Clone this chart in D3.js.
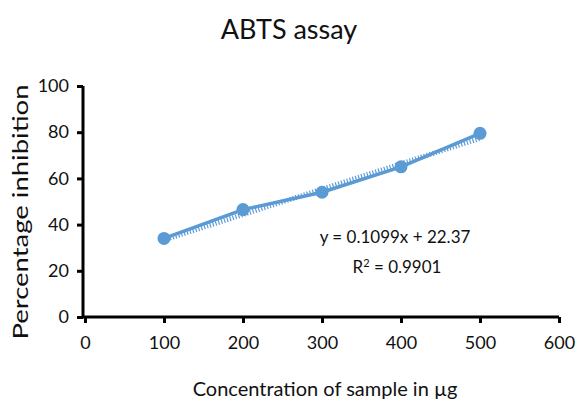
<!DOCTYPE html>
<html><head><meta charset="utf-8">
<script src="https://cdn.jsdelivr.net/npm/d3@7"></script>
<style>body{margin:0;background:#fff}svg{display:block}</style>
</head><body><svg id="c" width="576" height="401"></svg>
<script>
const concentrations = [100, 200, 300, 400, 500];
const inhibition = [34, 46.5, 54, 65, 79.5];
const xTicks = [0, 100, 200, 300, 400, 500, 600];
const yTicks = [0, 20, 40, 60, 80, 100];
const trendSlope = 0.1099, trendIntercept = 22.37;
const title = "ABTS assay";
const xTitle = "Concentration of sample in µg";
const yTitle = "Percentage inhibition";
const eqText = "y = 0.1099x + 22.37";
const r2Value = "0.9901";

const svg = d3.select("#c");
const font = "Lato, 'Open Sans', sans-serif";
const x = d3.scaleLinear().domain([0, 600]).range([85, 559]);
const y = d3.scaleLinear().domain([0, 100]).range([317, 86]);
const blue = "#5B9BD5";

svg.append("text").attr("x", 289).attr("y", 39).attr("text-anchor", "middle")
  .attr("font-family", font).attr("font-size", 27).attr("fill", "#111").text(title);

// trendline (dotted)
const tl = d3.line().x(d => x(d)).y(d => y(trendSlope * d + trendIntercept));
svg.append("path").datum([100, 500]).attr("d", tl).attr("fill", "none")
  .attr("stroke", blue).attr("stroke-width", 5).attr("stroke-dasharray", "1.2,1.8");

// data line
const line = d3.line().x((d, i) => x(concentrations[i])).y(d => y(d));
svg.append("path").datum(inhibition).attr("d", line).attr("fill", "none")
  .attr("stroke", blue).attr("stroke-width", 3.5);
svg.selectAll("circle.pt").data(inhibition).join("circle").attr("class", "pt")
  .attr("cx", (d, i) => x(concentrations[i])).attr("cy", d => y(d)).attr("r", 6.5).attr("fill", blue);

// axes
const xAxis = svg.append("g").attr("transform", "translate(0,317)")
  .call(d3.axisBottom(x).tickValues(xTicks).tickSize(6).tickPadding(13).tickFormat(d3.format("d")));
const yAxis = svg.append("g").attr("transform", "translate(83,0)")
  .call(d3.axisLeft(y).tickValues(yTicks).tickSize(6).tickPadding(8).tickFormat(d3.format("d")));
[xAxis, yAxis].forEach(g => {
  g.select(".domain").attr("stroke", "#000").attr("stroke-width", 3);
  g.selectAll(".tick line").attr("stroke", "#000").attr("stroke-width", 3);
  g.selectAll(".tick text").attr("font-family", font).attr("font-size", 18).attr("fill", "#111");
});
xAxis.select(".domain").attr("d", "M83,0H559");
yAxis.select(".domain").attr("d", "M0,86V318");

svg.append("text").attr("x", 325).attr("y", 396).attr("text-anchor", "middle")
  .attr("font-family", font).attr("font-size", 20).attr("fill", "#111").text(xTitle);
svg.append("text").attr("transform", "translate(28,212) rotate(-90)").attr("text-anchor", "middle")
  .attr("font-family", font).attr("font-size", 22).attr("fill", "#111")
  .attr("textLength", 255).attr("lengthAdjust", "spacingAndGlyphs").text(yTitle);

svg.append("text").attr("x", 395).attr("y", 243).attr("text-anchor", "middle")
  .attr("font-family", font).attr("font-size", 17).attr("fill", "#111").text(eqText);
const r2 = svg.append("text").attr("x", 397).attr("y", 273).attr("text-anchor", "middle")
  .attr("font-family", font).attr("font-size", 17).attr("fill", "#111");
r2.append("tspan").text("R");
r2.append("tspan").attr("dy", -6).attr("font-size", 11).text("2");
r2.append("tspan").attr("dy", 6).text(" = " + r2Value);
</script></body></html>
